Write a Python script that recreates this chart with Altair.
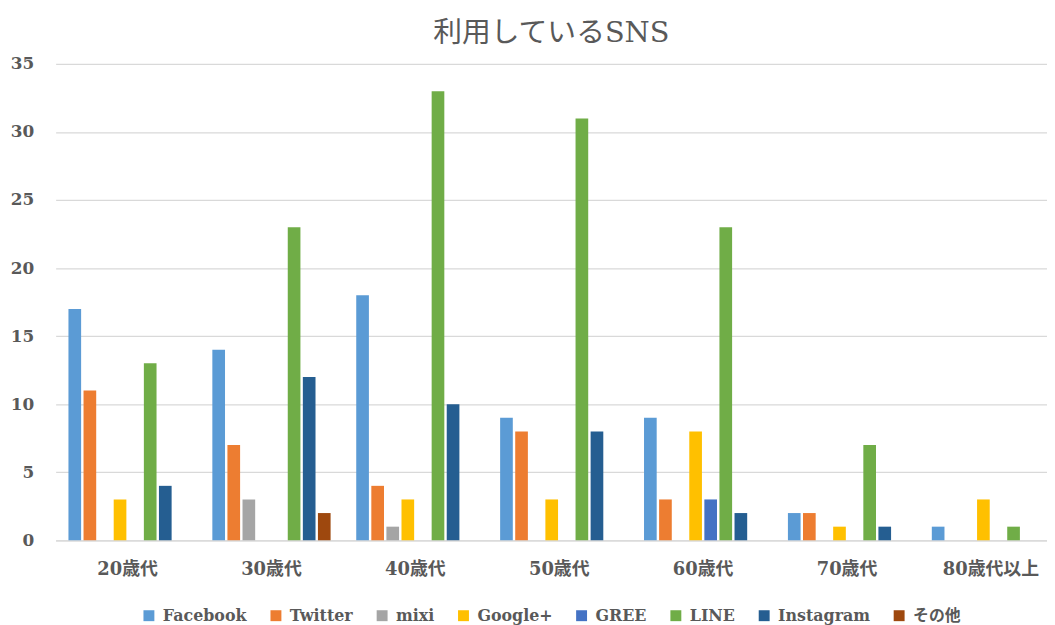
import altair as alt
import pandas as pd

categories = ["20歳代", "30歳代", "40歳代", "50歳代", "60歳代", "70歳代", "80歳代以上"]
series = ["Facebook", "Twitter", "mixi", "Google+", "GREE", "LINE", "Instagram", "その他"]
colors = ["#5B9BD5", "#ED7D31", "#A5A5A5", "#FFC000", "#4472C4", "#70AD47", "#255E91", "#9E480E"]

facebook = [17, 14, 18, 9, 9, 2, 1]
twitter = [11, 7, 4, 8, 3, 2, 0]
mixi = [0, 3, 1, 0, 0, 0, 0]
googleplus = [3, 0, 3, 3, 8, 1, 3]
gree = [0, 0, 0, 0, 3, 0, 0]
line = [13, 23, 33, 31, 23, 7, 1]
instagram = [4, 12, 10, 8, 2, 1, 0]
other = [0, 2, 0, 0, 0, 0, 0]

values = [facebook, twitter, mixi, googleplus, gree, line, instagram, other]
rows = []
for s, vals in zip(series, values):
    for c, v in zip(categories, vals):
        rows.append({"age": c, "series": s, "count": v})
df = pd.DataFrame(rows)

FONT = "DejaVu Serif, Noto Sans CJK JP"
GRAY = "#595959"

chart = alt.Chart(df).mark_bar().encode(
    x=alt.X("age:N", sort=categories, title=None,
            scale=alt.Scale(range=[0, 1015], paddingInner=0, paddingOuter=0),
            axis=alt.Axis(labelAngle=0, ticks=False, labelPadding=20, labelFontSize=18,
                          labelColor=GRAY, labelFont=FONT, labelFontWeight="bold",
                          domainColor="#d9d9d9", domainWidth=1.3, grid=False)),
    xOffset=alt.XOffset("series:N", sort=series,
                        scale=alt.Scale(paddingInner=0.16, paddingOuter=0.85)),
    y=alt.Y("count:Q", title=None,
            scale=alt.Scale(domain=[0, 35], nice=False),
            axis=alt.Axis(values=[0, 5, 10, 15, 20, 25, 30, 35], ticks=False, domain=False,
                          labelPadding=22, labelFontSize=17, labelColor=GRAY, labelFont=FONT,
                          labelFontWeight="bold",
                          gridColor="#d9d9d9", gridWidth=1.3)),
    color=alt.Color("series:N", sort=series,
                    scale=alt.Scale(domain=series, range=colors),
                    legend=alt.Legend(title=None, orient="none", direction="horizontal",
                                      columns=8, legendX=86, legendY=548, padding=0,
                                      symbolType="square", symbolSize=121,
                                      symbolStrokeWidth=0, labelOffset=6,
                                      columnPadding=21, labelFontSize=16,
                                      labelFontWeight="bold",
                                      labelColor=GRAY, labelFont=FONT)),
).properties(
    width=999,
    height=480,
    title=alt.TitleParams("利用しているSNS", fontSize=29, font=FONT, color=GRAY,
                          fontWeight="normal", anchor="middle", offset=7),
    autosize=alt.AutoSizeParams(type="none"),
    padding={"left": 48, "top": 54, "right": 0, "bottom": 83},
).configure_view(stroke=None)

chart.save("out.html", embed_options={"renderer": "svg", "actions": False})
